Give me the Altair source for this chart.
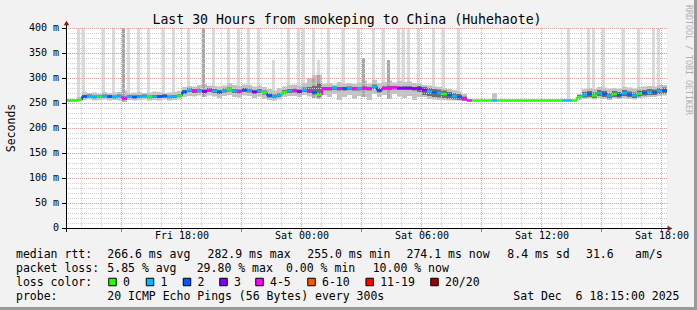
import altair as alt
import pandas as pd

MONO = "DejaVu Sans Mono"

# ---------------- data (15-minute bins, Fri 2025-12-05 12:15 -> Sat 18:15) ----------------
START = "2025-12-05T12:15:00"
END = "2025-12-06T18:15:00"
BIN_MIN = 15

median = [255, 255, 256, 263, 264, 262, 263, 264, 263, 262,
          264, 259, 263, 262, 263, 264, 262, 263, 263, 264,
          262, 263, 265, 272, 276, 274, 275, 273, 276, 274,
          272, 275, 277, 274, 273, 276, 275, 272, 274, 271,
          265, 263, 266, 272, 274, 275, 273, 276, 274, 271,
          266, 279, 279, 280, 279, 279, 280, 279, 279, 280,
          279, 283, 275, 280, 280, 281, 280, 280, 280, 279,
          279, 276, 273, 271, 270, 268, 266, 264, 262, 258,
          255, 255, 255, 255, 255, 255, 255, 255, 255, 255,
          255, 255, 255, 255, 255, 255, 255, 255, 255, 255,
          255, 255, 262, 266, 268, 265, 270, 268, 264, 268,
          266, 270, 267, 265, 269, 270, 272, 271, 274, 275]

# loss category index per bin (0 -> "0", 1 -> "1", ..., 4 -> "4-5")
loss = [0, 0, 0, 2, 1, 1, 0, 1, 2, 1,
        1, 4, 1, 2, 1, 1, 0, 1, 2, 2,
        1, 1, 0, 2, 1, 4, 1, 3, 4, 1,
        2, 1, 0, 1, 4, 2, 1, 3, 1, 0,
        2, 1, 1, 0, 1, 4, 3, 1, 4, 2,
        0, 4, 4, 1, 4, 2, 1, 4, 1, 4,
        4, 1, 2, 4, 4, 4, 3, 3, 3, 3,
        3, 3, 1, 2, 1, 0, 2, 1, 2, 4,
        4, 0, 0, 0, 0, 1, 0, 0, 0, 0,
        0, 0, 0, 0, 0, 0, 0, 0, 0, 1,
        1, 0, 0, 1, 2, 0, 1, 2, 1, 0,
        2, 1, 2, 1, 0, 2, 1, 2, 1, 2]

smoke_lo = [253, 253, 254, 256, 257, 255, 256, 257, 255, 256,
            255, 252, 256, 255, 256, 257, 255, 256, 255, 257,
            255, 256, 257, 262, 264, 263, 265, 262, 265, 263,
            260, 264, 266, 262, 261, 265, 264, 260, 263, 258,
            256, 255, 257, 262, 264, 264, 262, 266, 263, 260,
            258, 266, 262, 268, 256, 262, 266, 258, 264, 262,
            256, 268, 262, 266, 258, 268, 263, 260, 264, 256,
            262, 262, 258, 257, 256, 256, 255, 255, 255, 254,
            255, 255, 255, 255, 255, 255, 255, 255, 255, 255,
            255, 255, 255, 255, 255, 255, 255, 255, 255, 255,
            255, 255, 256, 258, 259, 257, 260, 258, 256, 259,
            258, 260, 258, 257, 260, 261, 262, 262, 264, 265]

smoke_hi = [258, 258, 262, 272, 270, 271, 269, 272, 270, 271,
            272, 275, 270, 271, 272, 270, 271, 273, 272, 270,
            271, 272, 274, 282, 284, 283, 286, 288, 285, 284,
            283, 285, 290, 286, 284, 287, 286, 283, 285, 282,
            278, 275, 280, 283, 286, 287, 285, 290, 300, 306,
            306, 288, 290, 287, 292, 289, 290, 288, 291, 295,
            289, 296, 290, 292, 295, 291, 294, 292, 293, 290,
            288, 286, 285, 283, 282, 280, 278, 276, 273, 268,
            255, 255, 255, 255, 255, 270, 255, 255, 255, 255,
            255, 255, 255, 255, 255, 255, 255, 255, 255, 255,
            255, 255, 268, 278, 280, 278, 282, 281, 279, 280,
            279, 282, 281, 279, 282, 283, 284, 283, 286, 286]

core_lo = [254, 254, 255, 260, 261, 259, 260, 261, 260, 259,
           261, 256, 260, 259, 260, 261, 259, 260, 260, 261,
           259, 260, 262, 268, 272, 270, 271, 269, 272, 270,
           268, 271, 273, 270, 269, 272, 271, 268, 270, 267,
           261, 259, 262, 268, 270, 271, 269, 272, 270, 267,
           262, 275, 275, 276, 275, 275, 276, 275, 275, 276,
           275, 278, 271, 276, 276, 277, 276, 276, 276, 275,
           272, 266, 264, 262, 261, 260, 258, 257, 256, 255,
           255, 255, 255, 255, 255, 255, 255, 255, 255, 255,
           255, 255, 255, 255, 255, 255, 255, 255, 255, 255,
           255, 255, 259, 261, 262, 260, 264, 262, 259, 262,
           261, 264, 262, 260, 263, 265, 266, 266, 268, 269]

core_hi = [256, 256, 258, 266, 267, 265, 266, 267, 266, 265,
           267, 263, 266, 265, 266, 267, 265, 266, 266, 267,
           265, 266, 268, 276, 280, 278, 279, 277, 280, 278,
           276, 279, 281, 278, 277, 280, 279, 276, 278, 275,
           269, 267, 270, 276, 278, 279, 277, 281, 282, 284,
           290, 282, 282, 283, 282, 282, 283, 282, 282, 283,
           282, 287, 280, 283, 284, 284, 283, 283, 283, 282,
           284, 282, 280, 278, 277, 275, 272, 270, 268, 263,
           255, 255, 255, 255, 255, 255, 255, 255, 255, 255,
           255, 255, 255, 255, 255, 255, 255, 255, 255, 255,
           255, 255, 266, 272, 274, 271, 276, 274, 270, 274,
           272, 276, 273, 271, 275, 276, 278, 277, 280, 281]

spike_bins = [2, 3, 7, 9, 11, 12, 14, 16, 19, 21, 24, 27, 29, 32, 34, 36, 38, 41, 44, 46,
              47, 49, 50, 52, 55, 58, 59, 61, 63, 64, 66, 67, 68, 70, 73, 75, 78, 100,
              104, 105, 107, 111, 114, 117, 118]
spike_tops = [400, 400, 400, 400, 400, 400, 400, 400, 400, 400, 400, 400, 400, 400, 400, 400, 400,
              336, 400, 400, 400, 400, 336, 400, 400, 400, 340, 400, 400, 336, 400, 400, 400,
              400, 400, 400, 400, 400, 400, 400, 400, 400, 400, 400, 400]
heavy_bins = [11, 27, 49, 50, 59, 64]
heavy_tops = [400, 400, 300, 306, 340, 336]

loss_labels = ["0", "1", "2", "3", "4-5", "6-10", "11-19", "20/20"]
loss_colors = ["#26ff00", "#00b8ff", "#0059ff", "#7e00ff", "#ff00ff", "#ff5500", "#ff0000", "#a10000"]

x_tick_times = ["2025-12-05T18:00:00Z", "2025-12-06T00:00:00Z", "2025-12-06T06:00:00Z",
                "2025-12-06T12:00:00Z", "2025-12-06T18:00:00Z"]
x_tick_labels = ["Fri 18:00", "Sat 00:00", "Sat 06:00", "Sat 12:00", "Sat 18:00"]
y_tick_values = [0, 50, 100, 150, 200, 250, 300, 350, 400]
y_tick_labels = ["0\u00a0\u00a0", "50 m", "100 m", "150 m", "200 m", "250 m", "300 m", "350 m", "400 m"]

title_text = "Last 30 Hours from smokeping to China (Huhehaote)"
rtt_stats = ["266.6 ms avg", "282.9 ms max", "255.0 ms min", "274.1 ms now", "8.4 ms sd", "31.6", "am/s"]
loss_stats = ["5.85 % avg", "29.80 % max", "0.00 % min", "10.00 % now"]
probe_text = "20 ICMP Echo Pings (56 Bytes) every 300s"
date_text = "Sat Dec\u00a0\u00a06 18:15:00 2025"

# ---------------- tables ----------------
start = pd.Timestamp(START, tz="UTC")
end = pd.Timestamp(END, tz="UTC")
iso = lambda t: t.strftime("%Y-%m-%dT%H:%M:%SZ")
ms = lambda t: int(t.timestamp() * 1000)

n = len(median)
t0 = [start + pd.Timedelta(minutes=BIN_MIN * i) for i in range(n)]
df = pd.DataFrame({
    "t0": [iso(t) for t in t0],
    "t1": [iso(t + pd.Timedelta(minutes=BIN_MIN)) for t in t0],
    "median": median,
    "loss": [loss_labels[k] for k in loss],
    "lo": smoke_lo, "hi": smoke_hi, "qlo": core_lo, "qhi": core_hi,
})
df["prev"] = df["median"].shift(1).fillna(df["median"])

sp = df.iloc[spike_bins].copy()
sp["top"] = spike_tops
hv = df.iloc[heavy_bins].copy()
hv["top"] = heavy_tops

hours = pd.date_range(start.ceil("h"), end, freq="h")
minor_v = pd.DataFrame({"t": [iso(h) for h in hours if h.hour % 3]})
major_v = pd.DataFrame({"t": [iso(h) for h in hours if h.hour % 3 == 0]})
minor_h = pd.DataFrame({"v": [v for v in range(10, 400, 10) if v % 50]})
major_h = pd.DataFrame({"v": list(range(50, 401, 50))})
xt = pd.DataFrame({"t": x_tick_times, "label": x_tick_labels})
yt = pd.DataFrame({"v": y_tick_values, "label": y_tick_labels})

XDOM = [ms(start), ms(end)]


def X(f):
    return alt.X(f"{f}:T", scale=alt.Scale(type="utc", domain=XDOM), axis=None)


def Y(f):
    return alt.Y(f"{f}:Q", scale=alt.Scale(domain=[0, 400], nice=False), axis=None)


one = alt.Data(values=[{}])


def txt(s, x, y, size=11.5, align="left", angle=0, color="#000000", baseline="alphabetic"):
    return alt.Chart(one).mark_text(text=s, font=MONO, fontSize=size, align=align, baseline=baseline,
                                    angle=angle, color=color).encode(x=alt.value(x), y=alt.value(y))


layers = []
# smoke
layers.append(alt.Chart(sp).mark_rect(color="#dadada", x2Offset=-2).encode(
    x=X("t0"), x2="t1", y=Y("lo"), y2="top"))
layers.append(alt.Chart(df).mark_rect(color="#c2c2c2").encode(x=X("t0"), x2="t1", y=Y("lo"), y2="hi"))
layers.append(alt.Chart(hv).mark_rect(color="#a8a8a8", x2Offset=-2).encode(
    x=X("t0"), x2="t1", y=Y("lo"), y2="top"))
layers.append(alt.Chart(df).mark_rect(color="#6e6e6e").encode(x=X("t0"), x2="t1", y=Y("qlo"), y2="qhi"))
# grid
layers.append(alt.Chart(minor_h).mark_rule(color="#cfcfcf", strokeDash=[1, 1], yOffset=0.5).encode(y=Y("v")))
layers.append(alt.Chart(minor_v).mark_rule(color="#cfcfcf", strokeDash=[1, 1], xOffset=-0.5).encode(x=X("t")))
layers.append(alt.Chart(major_h).mark_rule(color="#e3a0a0", strokeDash=[1, 1], yOffset=0.5).encode(y=Y("v")))
layers.append(alt.Chart(major_v).mark_rule(color="#e3a0a0", strokeDash=[1, 1], xOffset=-0.5).encode(x=X("t")))
# median
cscale = alt.Scale(domain=loss_labels, range=loss_colors)
layers.append(alt.Chart(df).mark_rule(strokeWidth=2).encode(
    x=X("t0"), y=Y("prev"), y2="median", color=alt.Color("loss:N", scale=cscale, legend=None)))
layers.append(alt.Chart(df).mark_rule(strokeWidth=2.5).encode(
    x=X("t0"), x2="t1", y=Y("median"), color=alt.Color("loss:N", scale=cscale, legend=None)))
# axes
layers.append(alt.Chart(one).mark_rule(color="#000000").encode(
    x=alt.value(-4), x2=alt.value(601), y=alt.value(200.5)))
layers.append(alt.Chart(one).mark_rule(color="#000000").encode(
    x=alt.value(-0.5), y=alt.value(204), y2=alt.value(-4)))
layers.append(alt.Chart(one).mark_point(shape="triangle-right", filled=True, size=30, color="#7f1f1f", opacity=1).encode(
    x=alt.value(603), y=alt.value(200.5)))
layers.append(alt.Chart(one).mark_point(shape="triangle-up", filled=True, size=30, color="#7f1f1f", opacity=1).encode(
    x=alt.value(-0.5), y=alt.value(-5)))
layers.append(alt.Chart(major_v).mark_rule(color="#c06060", xOffset=-0.5).encode(
    x=X("t"), y=alt.value(201), y2=alt.value(204)))
layers.append(alt.Chart(yt).mark_rule(color="#000000", yOffset=0.5).encode(
    y=Y("v"), x=alt.value(-5), x2=alt.value(-1)))
layers.append(alt.Chart(xt).mark_text(font=MONO, fontSize=10, align="center", baseline="alphabetic").encode(
    x=X("t"), y=alt.value(211), text="label:N"))
layers.append(alt.Chart(yt).mark_text(font=MONO, fontSize=10, align="right", baseline="middle").encode(
    y=Y("v"), x=alt.value(-8), text="label:N"))

# titles
layers.append(txt(title_text, 280, -4, size=13.2, align="center"))
layers.append(txt("Seconds", -55.5, 100, align="center", angle=270, baseline="middle"))
layers.append(txt("RRDTOOL / TOBI OETIKER", 621, 32, size=8.3, align="center", angle=90,
                  color="#b0b0b0", baseline="middle"))

# legend / stats
L1, L2, L3, L4 = 230, 244, 258, 272
layers.append(txt("median rtt:", -51, L1))
for s, x in zip(rtt_stats, [40.3, 140.5, 240.3, 339.5, 440.3, 519, 568]):
    layers.append(txt(s, x, L1))
layers.append(txt("packet loss:", -51, L2))
for s, x in zip(loss_stats, [40.3, 129.7, 219, 305.7]):
    layers.append(txt(s, x, L2))
layers.append(txt("loss color:", -51, L3))
sq_x = [45.5, 83, 120, 156.5, 192.5, 244.5, 302.7, 367.5]
for lab, col, x in zip(loss_labels, loss_colors, sq_x):
    layers.append(alt.Chart(one).mark_point(shape="square", filled=True, size=56, fill=col, stroke="#000000",
                                            strokeWidth=1, opacity=1).encode(x=alt.value(x), y=alt.value(L3 - 4)))
    layers.append(txt(lab, x + 10.5, L3))
layers.append(txt("probe:", -51, L4))
layers.append(txt(probe_text, 40.3, L4))
layers.append(txt(date_text, 446.3, L4))

# frame
layers.append(alt.Chart(one).mark_rule(color="#9a9a9a", strokeWidth=3).encode(
    x=alt.value(628.5), y=alt.value(-28), y2=alt.value(282)))
layers.append(alt.Chart(one).mark_rule(color="#9a9a9a", strokeWidth=3).encode(
    x=alt.value(-67), x2=alt.value(630), y=alt.value(280.5)))

chart = alt.layer(*layers).properties(
    width=600, height=200,
    padding={"left": 67, "top": 28, "right": 30, "bottom": 82},
    autosize=alt.AutoSizeParams(type="none"),
    background="#f2f2f2",
).configure_view(stroke=None, fill="#ffffff")

chart.save("out.html", embed_options={"renderer": "svg", "actions": False})
